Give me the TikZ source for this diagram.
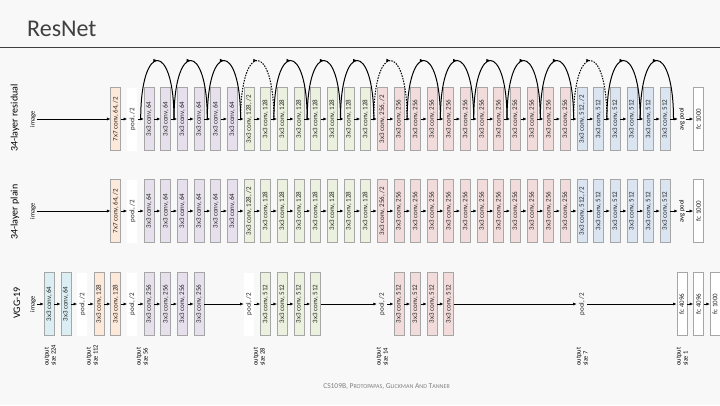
\documentclass[tikz,border=0pt]{standalone}
\usepackage{fontspec}
\setmainfont{Carlito}
\usetikzlibrary{arrows.meta,decorations.markings}
\definecolor{bgcolor}{HTML}{F8F8F8}
\definecolor{edgecolor}{HTML}{A6A6A6}
\definecolor{titlecolor}{HTML}{404040}
\definecolor{orangefill}{HTML}{FDE9D9}
\definecolor{purplefill}{HTML}{E5E0EC}
\definecolor{greenfill}{HTML}{EBF1DE}
\definecolor{redfill}{HTML}{F2DCDB}
\definecolor{bluefill}{HTML}{DBE5F1}
\definecolor{aquafill}{HTML}{DAEEF3}
\newcommand{\convtxt}[1]{3x3 conv, #1}
\newcommand{\pooltxt}{pool, /2}

\begin{document}
\begin{tikzpicture}[
  x=1pt,y=-1pt,
  layer/.style={rectangle,draw=edgecolor,line width=0.5pt,rotate=90,minimum width=63pt,minimum height=10pt,inner sep=0pt,font=\fontsize{7}{8}\selectfont,text=black!85},
  orangebox/.style={layer,fill=orangefill},
  purplebox/.style={layer,fill=purplefill},
  greenbox/.style={layer,fill=greenfill},
  redbox/.style={layer,fill=redfill},
  bluebox/.style={layer,fill=bluefill},
  aquabox/.style={layer,fill=aquafill},
  fcbox/.style={layer,fill=white},
  poolbox/.style={layer,draw=none,fill=white},
  plainpool/.style={layer,draw=none},
  lbl/.style={rotate=90,inner sep=1pt,font=\fontsize{6.5}{7}\selectfont},
  sizelbl/.style={rotate=90,anchor=west,align=left,inner sep=0pt,font=\fontsize{6.5}{7}\selectfont},
  rowname/.style={rotate=90,inner sep=0pt,font=\fontsize{10}{12}\selectfont},
  arr/.style={-{Latex[length=3.5pt,width=3pt]},line width=0.6pt},
  resarc/.style={line width=1pt,postaction={decorate},decoration={markings,mark=at position 0.5 with {\arrow{Latex[length=4pt,width=3.5pt]}}}}
]
\fill[bgcolor] (0,0) rectangle (720,405);
\useasboundingbox (0,0) rectangle (720,405);

% title and footer
\node[anchor=base west,inner sep=0pt,font=\fontsize{24}{28}\selectfont,text=titlecolor] (title) at (27,36.7) {ResNet};
\draw[titlecolor,line width=0.8pt] (0,47.5) -- (720,47.5);
\node[text=black!50,font=\fontsize{7.5}{9}\selectfont] (credit) at (386.5,386.5)
  {CS109B, P{\fontsize{6}{9}\selectfont ROTOPAPAS}, G{\fontsize{6}{9}\selectfont LICKMAN} A{\fontsize{6}{9}\selectfont ND} T{\fontsize{6}{9}\selectfont ANNER}};

% row names
\node[rowname] (resname) at (15,118) {34-layer residual};
\node[rowname] (plnname) at (15,212) {34-layer plain};
\node[rowname] (vggname) at (17,303) {VGG-19};

% 34-layer residual and plain
\foreach \row/\y in {res/119,pln/211} {
  \node[lbl] (\row img) at (33,\y) {image};
  \node[orangebox] (\row stem) at (115.7,\y) {7x7 conv, 64, /2};
  \node[poolbox] (\row pool) at (132.4,\y) {\pooltxt};
  \foreach \first/\last/\ch/\colr in {0/5/64/purple,6/13/128/green,14/25/256/red,26/31/512/blue}
    \foreach \k in {\first,...,\last}
      \node[\colr box] (\row\k) at ({149+16.65*\k},\y)
        {\convtxt{\ch}\ifnum\k=\first\relax\ifnum\k>0 , /2\fi\fi};
  \node[lbl] (\row avg) at (681.8,\y) {avg pool};
  \node[fcbox] (\row fc) at (698.4,\y) {fc 1000};
  \draw[arr] (\row img) -- (\row stem);
  \draw[arr] (\row stem) -- (\row pool);
  \draw[arr] (\row pool) -- (\row0);
  \foreach \k [count=\next from 1] in {0,...,30}
    \draw[arr] (\row\k) -- (\row\next);
  \draw[arr] (\row31) -- (\row avg);
  \draw[arr] (\row avg) -- (\row fc);
}

% shortcut connections
\foreach \k in {0,...,32}
  \coordinate (j\k) at ({140.7+16.65*\k},119);
\foreach \a [evaluate=\a as \b using int(\a+2)] in {0,2,4,8,10,12,16,18,20,22,24,28,30}
  \draw[resarc] (j\a) .. controls +(0,-78) and +(0,-78) .. (j\b);
\foreach \a [evaluate=\a as \b using int(\a+2)] in {6,14,26}
  \draw[resarc,dash pattern=on 1.5pt off 1.2pt] (j\a) .. controls +(0,-78) and +(0,-78) .. (j\b);

% VGG-19
\node[lbl] (vggimg) at (33,304) {image};
\foreach \n/\k/\txt/\sty in {1/-6/\convtxt{64}/aquabox,2/-5/\convtxt{64}/aquabox,3/-4/\pooltxt/poolbox,
    4/-3/\convtxt{128}/orangebox,5/-2/\convtxt{128}/orangebox,6/-1/\pooltxt/poolbox,
    7/0/\convtxt{256}/purplebox,8/1/\convtxt{256}/purplebox,9/2/\convtxt{256}/purplebox,10/3/\convtxt{256}/purplebox,
    11/6/\pooltxt/poolbox,
    12/7/\convtxt{512}/greenbox,13/8/\convtxt{512}/greenbox,14/9/\convtxt{512}/greenbox,15/10/\convtxt{512}/greenbox,
    16/14/\pooltxt/plainpool,
    17/15/\convtxt{512}/redbox,18/16/\convtxt{512}/redbox,19/17/\convtxt{512}/redbox,20/18/\convtxt{512}/redbox,
    21/26/\pooltxt/plainpool,
    22/32/fc 4096/fcbox,23/33/fc 4096/fcbox,24/34/fc 1000/fcbox}
  \node[\sty] (vgg\n) at ({149+16.65*\k},304) {\txt};
\draw[arr] (vggimg) -- (vgg1);
\foreach \n [count=\m from 2] in {1,...,23}
  \draw[arr] (vgg\n) -- (vgg\m);

% output sizes
\foreach \x/\s in {50/224,92/112,142/56,259/28,382/14,582/7,682/1}
  \node[sizelbl] (out\s) at (\x,366) {output\\size \s};
\end{tikzpicture}
\end{document}
